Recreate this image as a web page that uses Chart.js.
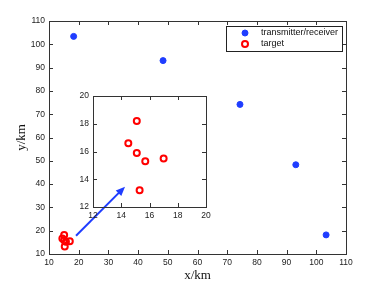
<!DOCTYPE html>
<html>
<head>
<meta charset="utf-8">
<script src="https://cdn.jsdelivr.net/npm/chart.js@4"></script>
<style>
  body { margin: 0; background: #fff; }
  #wrap { position: relative; width: 382px; height: 287px; }
  #mainChart { position: absolute; left: 0; top: 0; }
  #insetChart { position: absolute; left: 60px; top: 86px; }
</style>
</head>
<body>
<div id="wrap">
  <canvas id="mainChart" width="382" height="287"></canvas>
  <canvas id="insetChart" width="160" height="140"></canvas>
</div>
<script>
// transmitter/receiver positions (km)
var txX = [18.3, 48.4, 74.3, 93.1, 103.3];
var txY = [103.4, 93.0, 74.2, 48.3, 18.2];
// target positions (km)
var tgX = [15.1, 14.5, 15.1, 15.7, 17.0, 15.3];
var tgY = [18.2, 16.6, 15.9, 15.3, 15.5, 13.2];
// arrow from target cluster towards the inset (main axis units)
var arrowX = [19.1, 35.6];
var arrowY = [17.8, 38.9];
// axis ranges
var mainRange = [10, 110];
var insetRange = [12, 20];

var BLUE = "#1f3dff";
var RED = "#ff0000";
var tickFont = { family: "'Liberation Sans', Arial, sans-serif", size: 8.5 };

function pts(xs, ys) {
  return xs.map(function (x, i) { return { x: x, y: ys[i] }; });
}

// box + inward ticks on all four sides, matlab style
var boxPlugin = {
  id: "box",
  afterDraw: function (chart) {
    var ctx = chart.ctx, a = chart.chartArea;
    var xs = chart.scales.x, ys = chart.scales.y;
    ctx.save();
    ctx.strokeStyle = "#333";
    ctx.lineWidth = 1;
    ctx.strokeRect(Math.round(a.left) + 0.5, Math.round(a.top) + 0.5,
      Math.round(a.right - a.left), Math.round(a.bottom - a.top));
    ctx.beginPath();
    xs.ticks.forEach(function (t) {
      var px = Math.round(xs.getPixelForValue(t.value)) + 0.5;
      ctx.moveTo(px, a.bottom); ctx.lineTo(px, a.bottom - 4);
      ctx.moveTo(px, a.top); ctx.lineTo(px, a.top + 4);
    });
    ys.ticks.forEach(function (t) {
      var py = Math.round(ys.getPixelForValue(t.value)) + 0.5;
      ctx.moveTo(a.left, py); ctx.lineTo(a.left + 4, py);
      ctx.moveTo(a.right, py); ctx.lineTo(a.right - 4, py);
    });
    ctx.stroke();
    ctx.restore();
  }
};

var arrowPlugin = {
  id: "arrow",
  afterDraw: function (chart) {
    var ctx = chart.ctx, xs = chart.scales.x, ys = chart.scales.y;
    var x0 = xs.getPixelForValue(arrowX[0]), y0 = ys.getPixelForValue(arrowY[0]);
    var x1 = xs.getPixelForValue(arrowX[1]), y1 = ys.getPixelForValue(arrowY[1]);
    var ang = Math.atan2(y1 - y0, x1 - x0);
    ctx.save();
    ctx.strokeStyle = BLUE;
    ctx.fillStyle = BLUE;
    ctx.lineWidth = 2;
    ctx.beginPath();
    ctx.moveTo(x0, y0);
    ctx.lineTo(x1 - 6 * Math.cos(ang), y1 - 6 * Math.sin(ang));
    ctx.stroke();
    ctx.beginPath();
    ctx.moveTo(x1, y1);
    ctx.lineTo(x1 - 10 * Math.cos(ang - 0.4), y1 - 10 * Math.sin(ang - 0.4));
    ctx.lineTo(x1 - 10 * Math.cos(ang + 0.4), y1 - 10 * Math.sin(ang + 0.4));
    ctx.closePath();
    ctx.fill();
    ctx.restore();
  }
};

var legendPlugin = {
  id: "boxLegend",
  afterDraw: function (chart) {
    var ctx = chart.ctx;
    var bx = 226, by = 26, bw = 116, bh = 25;
    ctx.save();
    ctx.fillStyle = "#fff";
    ctx.fillRect(bx, by, bw, bh);
    ctx.strokeStyle = "#222";
    ctx.lineWidth = 1;
    ctx.strokeRect(bx + 0.5, by + 0.5, bw, bh);
    ctx.font = "9px 'Liberation Sans', Arial, sans-serif";
    ctx.textBaseline = "middle";
    chart.data.datasets.forEach(function (ds, i) {
      var cy = by + 7 + i * 11;
      ctx.beginPath();
      ctx.arc(245, cy, ds.pointRadius, 0, Math.PI * 2);
      if (ds.pointBackgroundColor !== "transparent") {
        ctx.fillStyle = ds.pointBackgroundColor; ctx.fill();
      }
      ctx.lineWidth = ds.pointBorderWidth;
      ctx.strokeStyle = ds.pointBorderColor;
      ctx.stroke();
      ctx.fillStyle = "#111";
      ctx.fillText(ds.label, 261, cy);
    });
    ctx.restore();
  }
};

function axis(range, step, titleText, titlePad, fixSize) {
  var o = {
    type: "linear",
    min: range[0], max: range[1],
    grid: { display: false, drawTicks: false },
    border: { display: false },
    ticks: { stepSize: step, font: tickFont, color: "#222", padding: 4, maxRotation: 0 },
    afterFit: fixSize
  };
  if (titleText) {
    o.title = { display: true, text: titleText, color: "#111",
      font: { family: "'Liberation Serif', 'Times New Roman', serif", size: 13 },
      padding: titlePad };
  }
  return o;
}

new Chart(document.getElementById("mainChart"), {
  type: "scatter",
  data: {
    datasets: [
      { label: "transmitter/receiver", data: pts(txX, txY),
        pointRadius: 3, pointBackgroundColor: BLUE, pointBorderColor: BLUE, pointBorderWidth: 1 },
      { label: "target", data: pts(tgX, tgY),
        pointRadius: 3, pointBackgroundColor: "transparent", pointBorderColor: RED, pointBorderWidth: 2 }
    ]
  },
  options: {
    responsive: false,
    animation: false,
    layout: { padding: { top: 21, right: 36, left: 0, bottom: 0 } },
    plugins: { legend: { display: false }, tooltip: { enabled: false } },
    scales: {
      x: axis(mainRange, 10, "x/km", { top: 4, bottom: 4 }, function (s) { s.height = 33; }),
      y: axis(mainRange, 10, "y/km", { top: 14, bottom: 0 }, function (s) { s.width = 49; })
    }
  },
  plugins: [boxPlugin, arrowPlugin, legendPlugin]
});

new Chart(document.getElementById("insetChart"), {
  type: "scatter",
  data: {
    datasets: [
      { label: "target", data: pts(tgX, tgY),
        pointRadius: 3, pointBackgroundColor: "transparent", pointBorderColor: RED, pointBorderWidth: 2 }
    ]
  },
  options: {
    responsive: false,
    animation: false,
    layout: { padding: { top: 10, right: 14, left: 0, bottom: 0 } },
    plugins: { legend: { display: false }, tooltip: { enabled: false } },
    scales: {
      x: axis(insetRange, 2, null, 0, function (s) { s.height = 19; }),
      y: axis(insetRange, 2, null, 0, function (s) { s.width = 33; })
    }
  },
  plugins: [boxPlugin]
});
</script>
</body>
</html>
